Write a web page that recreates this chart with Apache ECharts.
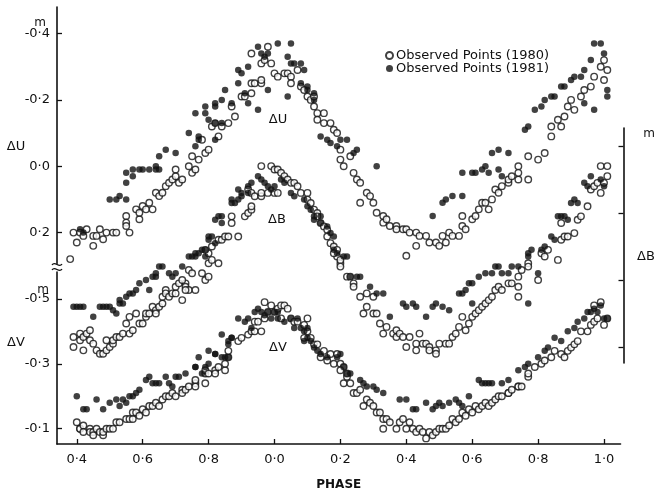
<!DOCTYPE html>
<html><head><meta charset="utf-8">
<script src="https://cdn.jsdelivr.net/npm/echarts@6/dist/echarts.min.js"></script>
<style>html,body{margin:0;padding:0;background:#fff}#c{width:667px;height:494px}</style>
</head><body><div id="c"></div>
<script>
// ---- tick values / labels ----
const phaseTicks = [0.4,0.6,0.8,1.0,1.2,1.4,1.6,1.8,2.0];
const phaseTickLabels = ['0·4','0·6','0·8','0·0','0·2','0·4','0·6','0·8','1·0'];
const uTicks = [-0.4,-0.2,0,0.2];
const uTickLabels = ['-0·4','-0·2','0·0','0·2'];
const bTicks = [-0.4,-0.2,0,0.2];
const bTickLabels = ['-0·4','-0·2','0·0','0·2'];
const vTicks = [-0.5,-0.3,-0.1];
const vTickLabels = ['-0·5','-0·3','-0·1'];
const legendNames = ['Observed Points (1980)','Observed Points (1981)'];

// ---- data: [phase (continuous, 1.0 = phase 0.0), delta mag] ----
const u1980 = [[0.39,0.20],[0.41,0.20],[0.42,0.21],[0.40,0.23],[0.43,0.19],[0.45,0.21],[0.46,0.21],[0.45,0.24],[0.47,0.19],[0.49,0.20],[0.51,0.20],[0.52,0.20],[0.48,0.22],[0.38,0.28],[0.55,0.15],[0.55,0.17],[0.55,0.18],[0.56,0.20],[0.58,0.13],[0.59,0.16],[0.59,0.14],[0.60,0.12],[0.61,0.13],[0.62,0.11],[0.63,0.13],[0.64,0.08],[0.65,0.09],[0.66,0.08],[0.67,0.06],[0.68,0.05],[0.69,0.04],[0.70,0.03],[0.70,0.01],[0.71,0.05],[0.72,0.04],[0.74,0.00],[0.75,-0.03],[0.75,0.02],[0.76,0.01],[0.77,-0.02],[0.79,-0.04],[0.80,-0.05],[0.78,-0.08],[0.83,-0.09],[0.81,-0.12],[0.82,-0.13],[0.84,-0.12],[0.86,-0.13],[0.88,-0.15],[0.87,-0.18],[0.90,-0.21],[0.91,-0.21],[0.93,-0.22],[0.93,-0.25],[0.94,-0.25],[0.96,-0.25],[0.96,-0.26],[0.93,-0.34],[0.96,-0.31],[0.97,-0.32],[0.98,-0.36],[0.99,-0.31],[1.00,-0.28],[1.01,-0.27],[1.03,-0.28],[1.04,-0.28],[1.05,-0.27],[1.05,-0.25],[1.07,-0.29],[1.08,-0.24],[1.09,-0.23],[1.10,-0.21],[1.11,-0.20],[1.12,-0.21],[1.12,-0.18],[1.13,-0.16],[1.13,-0.14],[1.15,-0.16],[1.15,-0.13],[1.17,-0.13],[1.18,-0.11],[1.19,-0.10],[1.20,-0.05],[1.20,-0.02],[1.21,0.00],[1.23,-0.03],[1.24,0.02],[1.25,0.04],[1.26,0.05],[1.26,0.11],[1.28,0.08],[1.29,0.09],[1.30,0.11],[1.31,0.14],[1.33,0.15],[1.33,0.17],[1.34,0.16],[1.35,0.18],[1.37,0.18],[1.37,0.19],[1.39,0.19],[1.40,0.19],[1.41,0.20],[1.43,0.20],[1.44,0.21],[1.46,0.21],[1.47,0.23],[1.43,0.24],[1.40,0.27],[1.49,0.23],[1.50,0.24],[1.51,0.21],[1.52,0.23],[1.53,0.20],[1.54,0.21],[1.56,0.21],[1.57,0.15],[1.57,0.18],[1.58,0.19],[1.60,0.16],[1.61,0.15],[1.62,0.13],[1.63,0.11],[1.64,0.11],[1.65,0.13],[1.66,0.10],[1.67,0.07],[1.68,0.08],[1.69,0.06],[1.71,0.05],[1.71,0.04],[1.72,0.03],[1.74,0.04],[1.74,0.00],[1.74,0.02],[1.77,0.04],[1.77,-0.03],[1.80,-0.02],[1.82,-0.04],[1.84,-0.09],[1.84,-0.12],[1.86,-0.14],[1.87,-0.12],[1.88,-0.15],[1.89,-0.18],[1.90,-0.20],[1.91,-0.17],[1.93,-0.21],[1.94,-0.23],[1.96,-0.24],[1.97,-0.27],[1.99,-0.30],[2.00,-0.26],[2.00,-0.32],[2.01,-0.29]];
const u1981 = [[0.41,0.19],[0.42,0.20],[0.50,0.10],[0.52,0.10],[0.55,0.10],[0.53,0.09],[0.55,0.05],[0.55,0.02],[0.57,0.01],[0.57,0.03],[0.59,0.01],[0.60,0.01],[0.62,0.01],[0.64,0.00],[0.64,0.01],[0.65,0.01],[0.65,-0.03],[0.67,-0.05],[0.70,-0.04],[0.74,-0.10],[0.76,-0.06],[0.77,-0.09],[0.77,-0.08],[0.76,-0.16],[0.79,-0.18],[0.79,-0.16],[0.82,-0.19],[0.82,-0.18],[0.84,-0.20],[0.80,-0.14],[0.82,-0.13],[0.84,-0.13],[0.82,-0.08],[0.85,-0.23],[0.87,-0.19],[0.89,-0.29],[0.90,-0.28],[0.92,-0.30],[0.89,-0.25],[0.91,-0.22],[0.92,-0.19],[0.95,-0.17],[0.95,-0.36],[0.98,-0.23],[0.96,-0.34],[0.97,-0.33],[0.98,-0.34],[1.01,-0.37],[1.05,-0.37],[1.04,-0.21],[1.04,-0.33],[1.05,-0.31],[1.06,-0.31],[1.08,-0.31],[1.09,-0.29],[1.08,-0.25],[1.10,-0.24],[1.10,-0.23],[1.12,-0.22],[1.12,-0.20],[1.14,-0.09],[1.16,-0.08],[1.17,-0.07],[1.19,-0.06],[1.20,-0.08],[1.22,-0.08],[1.24,-0.04],[1.25,-0.05],[1.31,0.00],[1.48,0.15],[1.51,0.11],[1.52,0.10],[1.54,0.09],[1.57,0.09],[1.57,0.02],[1.60,0.02],[1.61,0.02],[1.63,0.01],[1.64,0.00],[1.65,0.02],[1.68,0.01],[1.69,0.03],[1.66,-0.04],[1.68,-0.05],[1.71,-0.04],[1.76,-0.11],[1.77,-0.12],[1.79,-0.17],[1.81,-0.18],[1.82,-0.20],[1.84,-0.21],[1.85,-0.21],[1.87,-0.24],[1.88,-0.24],[1.90,-0.26],[1.91,-0.27],[1.93,-0.27],[1.94,-0.29],[1.96,-0.32],[1.97,-0.37],[1.99,-0.37],[2.00,-0.34],[2.01,-0.23],[2.01,-0.21],[1.94,-0.19],[1.97,-0.17]];
const b1980 = [[0.39,0.17],[0.39,0.20],[0.41,0.18],[0.41,0.16],[0.42,0.17],[0.42,0.21],[0.43,0.16],[0.44,0.15],[0.44,0.18],[0.45,0.19],[0.46,0.21],[0.47,0.22],[0.48,0.22],[0.49,0.21],[0.49,0.18],[0.50,0.20],[0.51,0.19],[0.51,0.18],[0.52,0.17],[0.53,0.17],[0.54,0.16],[0.55,0.13],[0.56,0.11],[0.56,0.16],[0.57,0.15],[0.58,0.10],[0.59,0.13],[0.60,0.13],[0.61,0.11],[0.61,0.10],[0.62,0.10],[0.63,0.08],[0.64,0.09],[0.64,0.10],[0.65,0.08],[0.66,0.07],[0.66,0.05],[0.67,0.03],[0.67,0.04],[0.68,0.05],[0.69,0.04],[0.70,0.04],[0.70,0.02],[0.71,0.01],[0.72,0.06],[0.73,0.01],[0.73,0.02],[0.74,0.03],[0.74,-0.03],[0.75,-0.02],[0.76,0.03],[0.78,-0.02],[0.79,0.00],[0.80,-0.01],[0.80,-0.05],[0.83,-0.05],[0.80,-0.08],[0.81,-0.10],[0.83,-0.12],[0.72,0.00],[0.73,0.03],[0.79,-0.09],[0.81,-0.06],[0.84,-0.12],[0.85,-0.13],[0.86,-0.13],[0.89,-0.13],[0.87,-0.19],[0.87,-0.17],[0.91,-0.19],[0.92,-0.20],[0.93,-0.21],[0.93,-0.22],[0.92,-0.27],[0.93,-0.26],[0.94,-0.25],[0.96,-0.25],[0.96,-0.26],[0.98,-0.26],[1.00,-0.26],[1.01,-0.26],[0.96,-0.34],[0.99,-0.34],[1.00,-0.33],[1.01,-0.33],[1.02,-0.32],[1.03,-0.31],[1.04,-0.30],[1.05,-0.29],[1.06,-0.29],[1.07,-0.28],[1.08,-0.26],[1.10,-0.26],[1.10,-0.24],[1.11,-0.23],[1.12,-0.21],[1.13,-0.20],[1.13,-0.19],[1.14,-0.17],[1.15,-0.16],[1.16,-0.15],[1.16,-0.13],[1.17,-0.11],[1.18,-0.10],[1.19,-0.09],[1.19,-0.07],[1.20,-0.05],[1.18,-0.08],[1.20,-0.06],[1.20,-0.04],[1.22,-0.01],[1.23,-0.01],[1.24,0.01],[1.24,0.02],[1.26,0.05],[1.27,0.10],[1.28,0.04],[1.28,0.08],[1.30,0.10],[1.30,0.05],[1.31,0.10],[1.32,0.13],[1.33,0.16],[1.34,0.14],[1.36,0.16],[1.37,0.15],[1.37,0.17],[1.38,0.16],[1.39,0.17],[1.40,0.20],[1.41,0.17],[1.43,0.19],[1.43,0.21],[1.44,0.16],[1.45,0.19],[1.46,0.19],[1.47,0.20],[1.47,0.21],[1.49,0.21],[1.49,0.22],[1.50,0.19],[1.52,0.19],[1.53,0.19],[1.54,0.17],[1.55,0.16],[1.56,0.14],[1.57,0.11],[1.58,0.15],[1.59,0.13],[1.60,0.11],[1.61,0.10],[1.62,0.09],[1.63,0.08],[1.64,0.07],[1.65,0.06],[1.66,0.05],[1.67,0.03],[1.68,0.02],[1.69,0.03],[1.71,0.01],[1.72,0.01],[1.74,-0.01],[1.74,0.02],[1.74,0.05],[1.75,-0.03],[1.77,-0.05],[1.77,-0.04],[1.80,0.00],[1.81,-0.08],[1.82,-0.07],[1.83,-0.09],[1.86,-0.06],[1.87,-0.12],[1.88,-0.13],[1.89,-0.13],[1.87,-0.17],[1.91,-0.14],[1.92,-0.18],[1.93,-0.19],[1.95,-0.22],[1.96,-0.27],[1.97,-0.28],[1.98,-0.29],[1.99,-0.26],[2.00,-0.29],[2.01,-0.31],[1.99,-0.34],[2.01,-0.34]];
const b1981 = [[0.39,0.08],[0.40,0.08],[0.41,0.08],[0.42,0.08],[0.45,0.11],[0.47,0.08],[0.48,0.08],[0.49,0.08],[0.50,0.08],[0.51,0.09],[0.52,0.10],[0.53,0.06],[0.53,0.07],[0.54,0.07],[0.55,0.05],[0.56,0.04],[0.57,0.04],[0.58,0.03],[0.59,0.01],[0.61,0.00],[0.62,0.03],[0.63,-0.01],[0.64,-0.02],[0.64,-0.01],[0.65,-0.04],[0.66,-0.04],[0.68,-0.02],[0.69,-0.01],[0.70,-0.02],[0.72,-0.04],[0.74,-0.07],[0.76,-0.07],[0.76,-0.08],[0.77,-0.08],[0.79,-0.07],[0.79,-0.09],[0.80,-0.12],[0.82,-0.11],[0.75,-0.07],[0.78,-0.09],[0.80,-0.13],[0.81,-0.13],[0.82,-0.18],[0.83,-0.19],[0.84,-0.19],[0.84,-0.17],[0.87,-0.23],[0.87,-0.24],[0.88,-0.23],[0.89,-0.24],[0.90,-0.25],[0.90,-0.26],[0.92,-0.26],[0.89,-0.27],[0.92,-0.28],[0.93,-0.29],[0.95,-0.31],[0.96,-0.30],[0.97,-0.29],[0.98,-0.28],[0.99,-0.27],[1.00,-0.28],[1.02,-0.30],[1.03,-0.29],[1.05,-0.26],[1.06,-0.25],[1.09,-0.24],[1.10,-0.22],[1.11,-0.21],[1.12,-0.19],[1.12,-0.18],[1.14,-0.19],[1.14,-0.17],[1.16,-0.16],[1.17,-0.14],[1.18,-0.13],[1.18,-0.09],[1.19,-0.08],[1.21,-0.07],[1.22,-0.07],[1.23,-0.01],[1.25,-0.01],[1.26,-0.01],[1.29,0.02],[1.31,0.04],[1.33,0.04],[1.35,0.11],[1.39,0.07],[1.40,0.08],[1.42,0.07],[1.43,0.08],[1.46,0.11],[1.48,0.08],[1.49,0.07],[1.51,0.08],[1.53,0.09],[1.56,0.04],[1.57,0.04],[1.58,0.03],[1.60,0.07],[1.59,0.01],[1.60,0.01],[1.62,-0.01],[1.64,-0.02],[1.66,-0.02],[1.67,-0.04],[1.68,-0.04],[1.69,-0.02],[1.71,-0.02],[1.72,-0.04],[1.74,-0.04],[1.77,-0.07],[1.77,-0.08],[1.78,-0.09],[1.77,0.07],[1.80,-0.02],[1.81,-0.09],[1.82,-0.10],[1.84,-0.13],[1.85,-0.12],[1.86,-0.19],[1.87,-0.19],[1.88,-0.19],[1.89,-0.18],[1.90,-0.23],[1.91,-0.24],[1.92,-0.23],[1.94,-0.29],[1.95,-0.28],[1.96,-0.31],[1.99,-0.30],[2.00,-0.28]];
const v1980 = [[0.40,-0.12],[0.41,-0.10],[0.41,-0.10],[0.42,-0.11],[0.42,-0.09],[0.44,-0.10],[0.44,-0.09],[0.45,-0.09],[0.45,-0.08],[0.46,-0.10],[0.47,-0.09],[0.48,-0.08],[0.48,-0.09],[0.49,-0.10],[0.50,-0.10],[0.51,-0.10],[0.52,-0.12],[0.53,-0.12],[0.55,-0.13],[0.56,-0.13],[0.57,-0.13],[0.57,-0.15],[0.58,-0.15],[0.59,-0.14],[0.60,-0.16],[0.61,-0.15],[0.62,-0.17],[0.63,-0.17],[0.64,-0.18],[0.65,-0.17],[0.66,-0.19],[0.67,-0.20],[0.68,-0.20],[0.69,-0.21],[0.70,-0.20],[0.72,-0.22],[0.72,-0.21],[0.73,-0.22],[0.74,-0.23],[0.76,-0.24],[0.76,-0.23],[0.79,-0.24],[0.76,-0.25],[0.79,-0.27],[0.79,-0.28],[0.80,-0.27],[0.82,-0.28],[0.82,-0.27],[0.83,-0.29],[0.85,-0.28],[0.85,-0.30],[0.86,-0.32],[0.86,-0.34],[0.89,-0.37],[0.90,-0.38],[0.92,-0.39],[0.93,-0.40],[0.94,-0.40],[0.94,-0.43],[0.95,-0.43],[0.96,-0.40],[0.97,-0.44],[0.97,-0.49],[0.98,-0.46],[0.99,-0.48],[1.00,-0.46],[1.01,-0.47],[1.02,-0.48],[1.03,-0.48],[1.02,-0.44],[1.04,-0.47],[1.05,-0.44],[1.06,-0.43],[1.07,-0.43],[1.09,-0.42],[1.10,-0.44],[1.10,-0.40],[1.09,-0.38],[1.11,-0.38],[1.12,-0.36],[1.13,-0.36],[1.14,-0.32],[1.15,-0.34],[1.16,-0.31],[1.17,-0.33],[1.18,-0.30],[1.19,-0.33],[1.20,-0.30],[1.21,-0.29],[1.20,-0.28],[1.21,-0.24],[1.22,-0.26],[1.22,-0.27],[1.23,-0.24],[1.24,-0.21],[1.25,-0.21],[1.26,-0.22],[1.27,-0.17],[1.28,-0.19],[1.29,-0.18],[1.30,-0.17],[1.31,-0.15],[1.32,-0.15],[1.33,-0.13],[1.33,-0.10],[1.34,-0.13],[1.35,-0.12],[1.37,-0.10],[1.38,-0.12],[1.39,-0.13],[1.40,-0.10],[1.41,-0.12],[1.42,-0.10],[1.43,-0.09],[1.44,-0.10],[1.45,-0.09],[1.46,-0.07],[1.47,-0.09],[1.48,-0.08],[1.49,-0.09],[1.50,-0.10],[1.51,-0.10],[1.52,-0.10],[1.53,-0.11],[1.54,-0.13],[1.55,-0.12],[1.56,-0.13],[1.57,-0.15],[1.58,-0.14],[1.59,-0.16],[1.60,-0.15],[1.61,-0.17],[1.62,-0.16],[1.63,-0.17],[1.64,-0.18],[1.65,-0.17],[1.66,-0.18],[1.67,-0.19],[1.68,-0.20],[1.69,-0.20],[1.71,-0.21],[1.71,-0.21],[1.72,-0.22],[1.74,-0.23],[1.74,-0.23],[1.75,-0.23],[1.77,-0.26],[1.77,-0.27],[1.79,-0.29],[1.81,-0.30],[1.82,-0.31],[1.84,-0.32],[1.85,-0.34],[1.87,-0.33],[1.88,-0.32],[1.89,-0.34],[1.90,-0.35],[1.91,-0.36],[1.92,-0.37],[1.93,-0.40],[1.95,-0.40],[1.96,-0.42],[1.97,-0.43],[1.98,-0.44],[1.99,-0.49],[1.97,-0.48],[2.00,-0.42],[2.01,-0.44]];
const v1981 = [[0.40,-0.20],[0.42,-0.16],[0.43,-0.16],[0.46,-0.19],[0.48,-0.16],[0.50,-0.18],[0.52,-0.19],[0.53,-0.17],[0.54,-0.19],[0.55,-0.18],[0.56,-0.20],[0.57,-0.20],[0.58,-0.21],[0.59,-0.22],[0.61,-0.25],[0.62,-0.26],[0.63,-0.24],[0.64,-0.24],[0.65,-0.24],[0.67,-0.26],[0.68,-0.24],[0.69,-0.23],[0.70,-0.26],[0.71,-0.26],[0.73,-0.27],[0.76,-0.29],[0.76,-0.29],[0.78,-0.27],[0.79,-0.29],[0.77,-0.32],[0.80,-0.30],[0.80,-0.34],[0.82,-0.33],[0.82,-0.33],[0.84,-0.32],[0.85,-0.32],[0.86,-0.32],[0.84,-0.39],[0.86,-0.36],[0.86,-0.37],[0.87,-0.38],[0.87,-0.38],[0.89,-0.44],[0.91,-0.43],[0.92,-0.44],[0.93,-0.41],[0.94,-0.46],[0.95,-0.47],[0.96,-0.46],[0.97,-0.45],[0.98,-0.46],[0.99,-0.44],[1.00,-0.46],[1.01,-0.46],[1.01,-0.44],[1.03,-0.43],[1.05,-0.44],[1.06,-0.41],[1.07,-0.44],[1.08,-0.41],[1.09,-0.37],[1.10,-0.41],[1.09,-0.40],[1.10,-0.38],[1.11,-0.37],[1.12,-0.35],[1.13,-0.34],[1.14,-0.33],[1.16,-0.32],[1.19,-0.32],[1.20,-0.33],[1.21,-0.29],[1.22,-0.27],[1.23,-0.27],[1.26,-0.25],[1.27,-0.24],[1.28,-0.23],[1.30,-0.23],[1.31,-0.22],[1.33,-0.21],[1.38,-0.19],[1.40,-0.19],[1.42,-0.16],[1.43,-0.16],[1.46,-0.18],[1.48,-0.16],[1.49,-0.17],[1.50,-0.18],[1.51,-0.17],[1.53,-0.18],[1.55,-0.19],[1.56,-0.18],[1.57,-0.17],[1.59,-0.20],[1.62,-0.25],[1.63,-0.24],[1.64,-0.24],[1.65,-0.24],[1.66,-0.24],[1.69,-0.24],[1.71,-0.25],[1.74,-0.28],[1.76,-0.29],[1.77,-0.30],[1.80,-0.32],[1.82,-0.34],[1.83,-0.35],[1.85,-0.38],[1.87,-0.37],[1.89,-0.40],[1.91,-0.41],[1.92,-0.43],[1.94,-0.44],[1.95,-0.46],[1.96,-0.46],[1.97,-0.47],[1.98,-0.46],[1.99,-0.48],[2.00,-0.44],[2.01,-0.44]];

// ---- chart ----
const FONT = 'DejaVu Sans';
const INK = '#111';
function fmt(ticks, labels){
  return function(v){ const i = ticks.findIndex(t => Math.abs(t - v) < 1e-6); return i >= 0 ? labels[i] : ''; };
}
const X_MIN = 0.34, X_MAX = 2.05;
const GL = 57, GW = 563.5;
function hiddenX(g){ return {type:'value', gridIndex:g, min:X_MIN, max:X_MAX, show:false}; }
function yAx(g, pos, min, max, ticks, labels, offset, showLabel){
  return {type:'value', gridIndex:g, position:pos, offset:offset||0, inverse:true, min:min, max:max,
    splitLine:{show:false},
    axisLine:{show:true, onZero:false, lineStyle:{color:INK, width:1.6}},
    axisTick:{show:true, inside:true, length:5, customValues:ticks, lineStyle:{color:INK, width:1.3}},
    axisLabel:{show:showLabel !== false, customValues:ticks, formatter:fmt(ticks, labels), margin:7,
      color:INK, fontFamily:FONT, fontSize:13}};
}
const openStyle = {color:'#fff', borderColor:INK, borderWidth:1.4};
const fillStyle = {color:INK};
function sc(name, data, g, style){
  return {type:'scatter', name:name, data:data, xAxisIndex:g, yAxisIndex:g, clip:false,
    symbol:'circle', symbolSize:6.5, itemStyle:style, emphasis:{disabled:true}, animation:false};
}
function txt(x, y, s, size){
  return {type:'text', x:x, y:y, style:{text:s, fill:INK, font:'normal '+(size||13)+'px "'+FONT+'"', align:'center', verticalAlign:'middle'}};
}
// right-hand ΔB tick labels: drawn as labels of an invisible helper series placed on the B axis scale
const bLabelSeries = {
  type:'scatter', name:'ΔB ticks', xAxisIndex:1, yAxisIndex:1, clip:false, silent:true,
  symbol:'none', symbolSize:0, z:20, animation:false, tooltip:{show:false},
  data: bTicks.map((t, i) => ({value:[X_MAX, t], labelText:bTickLabels[i]})),
  label:{show:true, position:'right', distance:8, align:'left', verticalAlign:'middle',
    color:INK, fontFamily:FONT, fontSize:13,
    formatter: function(p){ return bTickLabels[p.dataIndex]; }},
  labelLayout:{hideOverlap:false}
};
const chart = echarts.init(document.getElementById('c'), null, {renderer:'canvas'});
chart.setOption({
  animation:false,
  backgroundColor:'#fff',
  tooltip:{show:false},
  grid:[
    {left:GL, top:7, width:GW, height:256.6},
    {left:GL, top:128, width:GW, height:235},
    {left:GL, top:272, width:GW, height:172}
  ],
  xAxis:[hiddenX(0), hiddenX(1),
    {type:'value', gridIndex:2, min:X_MIN, max:X_MAX,
      splitLine:{show:false},
      axisLine:{show:true, onZero:false, lineStyle:{color:INK, width:1.6}},
      axisTick:{show:true, inside:true, length:5, customValues:phaseTicks, lineStyle:{color:INK, width:1.3}},
      axisLabel:{show:true, customValues:phaseTicks, formatter:fmt(phaseTicks, phaseTickLabels), margin:9,
        color:INK, fontFamily:FONT, fontSize:13},
      name:'PHASE', nameLocation:'middle', nameGap:35,
      nameTextStyle:{color:INK, fontFamily:FONT, fontSize:12, fontWeight:'bold'}}
  ],
  yAxis:[
    yAx(0,'left',-0.48,0.2935,uTicks,uTickLabels),
    yAx(1,'right',-0.4537,0.2478,bTicks,bTickLabels,3,false),
    yAx(2,'left',-0.583,-0.0528,vTicks,vTickLabels)
  ],
  legend:{show:true, orient:'vertical', left:380, top:44, itemWidth:7, itemHeight:7, itemGap:0,
    icon:'circle', data:legendNames, selectedMode:false,
    textStyle:{color:INK, fontFamily:FONT, fontSize:13, lineHeight:11, padding:[0,0,0,-2]}},
  series:[
    sc(legendNames[0], u1980, 0, openStyle),
    sc(legendNames[1], u1981, 0, fillStyle),
    sc(legendNames[0], b1980, 1, openStyle),
    sc(legendNames[1], b1981, 1, fillStyle),
    sc(legendNames[0], v1980, 2, openStyle),
    sc(legendNames[1], v1981, 2, fillStyle),
    bLabelSeries
  ],
  graphic:[
    txt(40, 23, 'm', 12),
    txt(43, 290, 'm', 12),
    txt(649, 134, 'm', 12),
    txt(16, 147, 'ΔU', 13),
    txt(16, 343, 'ΔV', 13),
    txt(646, 257, 'ΔB', 13),
    txt(278, 120, 'ΔU', 13),
    txt(277, 220, 'ΔB', 13),
    txt(278, 348, 'ΔV', 13),
    {type:'bezierCurve', shape:{x1:52, y1:265, x2:62, y2:264, cpx1:55, cpy1:260, cpx2:59, cpy2:269}, style:{stroke:INK, lineWidth:1.3, fill:null}},
    {type:'bezierCurve', shape:{x1:52, y1:270, x2:62, y2:269, cpx1:55, cpy1:265, cpx2:59, cpy2:274}, style:{stroke:INK, lineWidth:1.3, fill:null}}
  ]
});
</script>
</body></html>
